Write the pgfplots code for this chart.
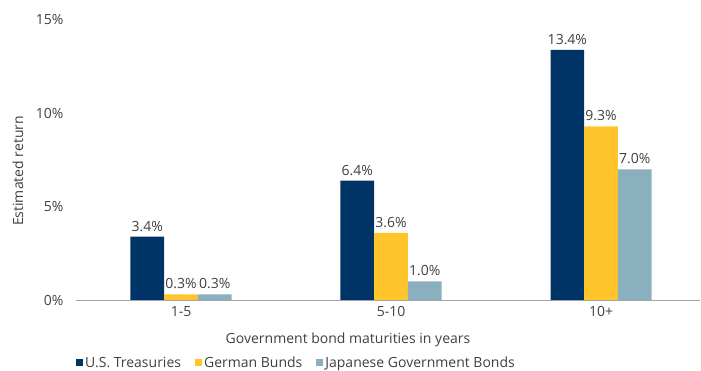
\documentclass[border=0pt]{standalone}
\usepackage{pgfplots}
\pgfplotsset{compat=1.18}
\usepackage{fontspec}
\setmainfont{Open Sans}
\definecolor{cNavy}{HTML}{003366}
\definecolor{cYellow}{HTML}{FFC52B}
\definecolor{cGrey}{HTML}{8AAFBF}
\definecolor{cText}{HTML}{404040}
\definecolor{cAxis}{HTML}{A6A6A6}
\begin{document}
\begin{tikzpicture}
\path[use as bounding box] (-76pt,-71pt) rectangle (625pt,300pt);
\begin{axis}[
  scale only axis,
  width=624pt, height=280pt,
  ybar=0pt, bar width=33.7pt,
  xmin=-0.5, xmax=2.471,
  ymin=0, ymax=15,
  ytick={0,5,10,15},
  yticklabel={\pgfmathprintnumber{\tick}\%},
  xtick={0,1,2}, xticklabels={1-5,5-10,10+},
  major tick length=0pt,
  separate axis lines,
  axis x line*=bottom,
  axis y line*=left,
  x axis line style={draw=cAxis, line width=0.8pt, -},
  y axis line style={draw=none},
  ytick style={draw=none}, xtick style={draw=none},
  yticklabel style={anchor=east, xshift=-9pt},
  /pgf/number format/assume math mode=true,
  tick label style={font=\fontsize{14}{16}\selectfont, text=cText},
  xticklabel style={yshift=-3pt},
  xlabel={Government bond maturities in years},
  ylabel={Estimated return},
  label style={font=\fontsize{14}{16}\selectfont, text=cText},
  xlabel style={at={(axis description cs:0.5,0)}, anchor=center, yshift=-40pt, xshift=-40pt},
  ylabel style={at={(axis description cs:0,0.5)}, anchor=center, rotate=0, yshift=58pt, xshift=-11pt},
  nodes near coords={\pgfmathprintnumber[fixed,fixed zerofill,precision=1]{\pgfplotspointmeta}\%},
  every node near coord/.append style={font=\fontsize{14}{16}\selectfont, text=cText, inner sep=2pt, yshift=3pt},
  legend style={at={(axis description cs:0,0)}, anchor=west, xshift=-3pt, yshift=-63pt, draw=none, fill=none,
    font=\fontsize{14}{16}\selectfont, text=cText, legend columns=-1},
  legend image code/.code={\fill[#1] (0pt,-3.5pt) rectangle (7pt,3.5pt);},
  clip=false,
]
\addplot[fill=cNavy, draw=none] coordinates {(0,3.4) (1,6.4) (2,13.4)};
\addplot[fill=cYellow, draw=none] coordinates {(0,0.3) (1,3.6) (2,9.3)};
\addplot[fill=cGrey, draw=none] coordinates {(0,0.3) (1,1.0) (2,7.0)};
\legend{U.S. Treasuries\rule{12pt}{0pt}, German Bunds\rule{12pt}{0pt}, Japanese Government Bonds}
\end{axis}
\end{tikzpicture}
\end{document}
